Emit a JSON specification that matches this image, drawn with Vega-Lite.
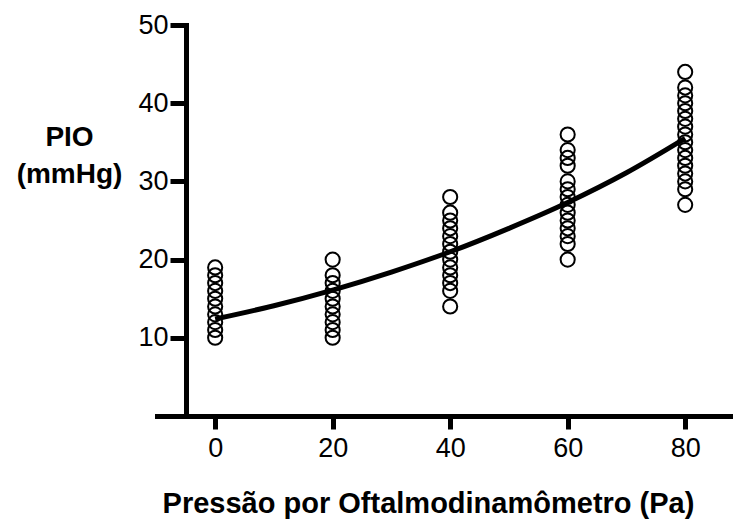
{
  "$schema": "https://vega.github.io/schema/vega-lite/v6.json",
  "width": 574,
  "height": 391,
  "autosize": {"type": "none"},
  "padding": {"left": 157, "top": 25, "right": 2, "bottom": 103},
  "background": "white",
  "config": {
    "view": {"stroke": null},
    "font": "Liberation Sans",
    "axis": {
      "grid": false,
      "domainColor": "black",
      "domainWidth": 5,
      "domainCap": "square",
      "tickColor": "black",
      "tickWidth": 5,
      "labelColor": "black",
      "labelFont": "Liberation Sans",
      "labelFontSize": 27,
      "titleColor": "black",
      "titleFont": "Liberation Sans",
      "titleFontWeight": "bold"
    }
  },
  "datasets": {
    "pio": [
      {"pressao": 0, "pio": 10}, {"pressao": 0, "pio": 11}, {"pressao": 0, "pio": 12},
      {"pressao": 0, "pio": 13}, {"pressao": 0, "pio": 14}, {"pressao": 0, "pio": 15},
      {"pressao": 0, "pio": 16}, {"pressao": 0, "pio": 17}, {"pressao": 0, "pio": 18},
      {"pressao": 0, "pio": 19},
      {"pressao": 20, "pio": 10}, {"pressao": 20, "pio": 11}, {"pressao": 20, "pio": 12},
      {"pressao": 20, "pio": 13}, {"pressao": 20, "pio": 14}, {"pressao": 20, "pio": 15},
      {"pressao": 20, "pio": 16}, {"pressao": 20, "pio": 17}, {"pressao": 20, "pio": 18},
      {"pressao": 20, "pio": 20},
      {"pressao": 40, "pio": 14}, {"pressao": 40, "pio": 16}, {"pressao": 40, "pio": 17},
      {"pressao": 40, "pio": 18}, {"pressao": 40, "pio": 19}, {"pressao": 40, "pio": 20},
      {"pressao": 40, "pio": 21}, {"pressao": 40, "pio": 22}, {"pressao": 40, "pio": 23},
      {"pressao": 40, "pio": 24}, {"pressao": 40, "pio": 25}, {"pressao": 40, "pio": 26},
      {"pressao": 40, "pio": 28},
      {"pressao": 60, "pio": 20}, {"pressao": 60, "pio": 22}, {"pressao": 60, "pio": 23},
      {"pressao": 60, "pio": 24}, {"pressao": 60, "pio": 25}, {"pressao": 60, "pio": 26},
      {"pressao": 60, "pio": 27}, {"pressao": 60, "pio": 28}, {"pressao": 60, "pio": 29},
      {"pressao": 60, "pio": 30}, {"pressao": 60, "pio": 32}, {"pressao": 60, "pio": 33},
      {"pressao": 60, "pio": 34}, {"pressao": 60, "pio": 36},
      {"pressao": 80, "pio": 27}, {"pressao": 80, "pio": 29}, {"pressao": 80, "pio": 30},
      {"pressao": 80, "pio": 31}, {"pressao": 80, "pio": 32}, {"pressao": 80, "pio": 33},
      {"pressao": 80, "pio": 34}, {"pressao": 80, "pio": 35}, {"pressao": 80, "pio": 36},
      {"pressao": 80, "pio": 37}, {"pressao": 80, "pio": 38}, {"pressao": 80, "pio": 39},
      {"pressao": 80, "pio": 40}, {"pressao": 80, "pio": 41}, {"pressao": 80, "pio": 42},
      {"pressao": 80, "pio": 44}
    ],
    "ajuste": [
      {"pressao": 0, "pio": 12.4}, {"pressao": 10, "pio": 14.1},
      {"pressao": 20, "pio": 16.1}, {"pressao": 30, "pio": 18.4},
      {"pressao": 40, "pio": 21.0}, {"pressao": 50, "pio": 24.0},
      {"pressao": 60, "pio": 27.3}, {"pressao": 70, "pio": 31.1},
      {"pressao": 80, "pio": 35.5}
    ]
  },
  "layer": [
    {
      "data": {"name": "pio"},
      "mark": {"type": "point", "shape": "circle", "filled": false, "stroke": "black", "strokeWidth": 2, "size": 200, "opacity": 1},
      "encoding": {
        "x": {
          "field": "pressao", "type": "quantitative",
          "scale": {"domain": [-9.9, 87.8], "nice": false, "zero": false},
          "axis": {
            "values": [0, 20, 40, 60, 80],
            "tickSize": 13,
            "labelPadding": 6,
            "title": "Pressão por Oftalmodinamômetro (Pa)",
            "titleFontSize": 29,
            "titlePadding": 28,
            "titleX": 271,
            "titleAnchor": null
          }
        },
        "y": {
          "field": "pio", "type": "quantitative",
          "scale": {"domain": [0, 50], "nice": false},
          "axis": {
            "values": [10, 20, 30, 40, 50],
            "offset": -29,
            "tickSize": 16,
            "labelPadding": 2,
            "title": ["PIO", "(mmHg)"],
            "titleFontSize": 28,
            "titleAngle": 0,
            "titleAlign": "center",
            "titleBaseline": "alphabetic",
            "titleLineHeight": 37,
            "titleX": -117,
            "titleY": 120
          }
        }
      }
    },
    {
      "data": {"name": "ajuste"},
      "mark": {"type": "line", "color": "black", "strokeWidth": 5, "interpolate": "monotone"},
      "encoding": {
        "x": {"field": "pressao", "type": "quantitative"},
        "y": {"field": "pio", "type": "quantitative"}
      }
    }
  ]
}
